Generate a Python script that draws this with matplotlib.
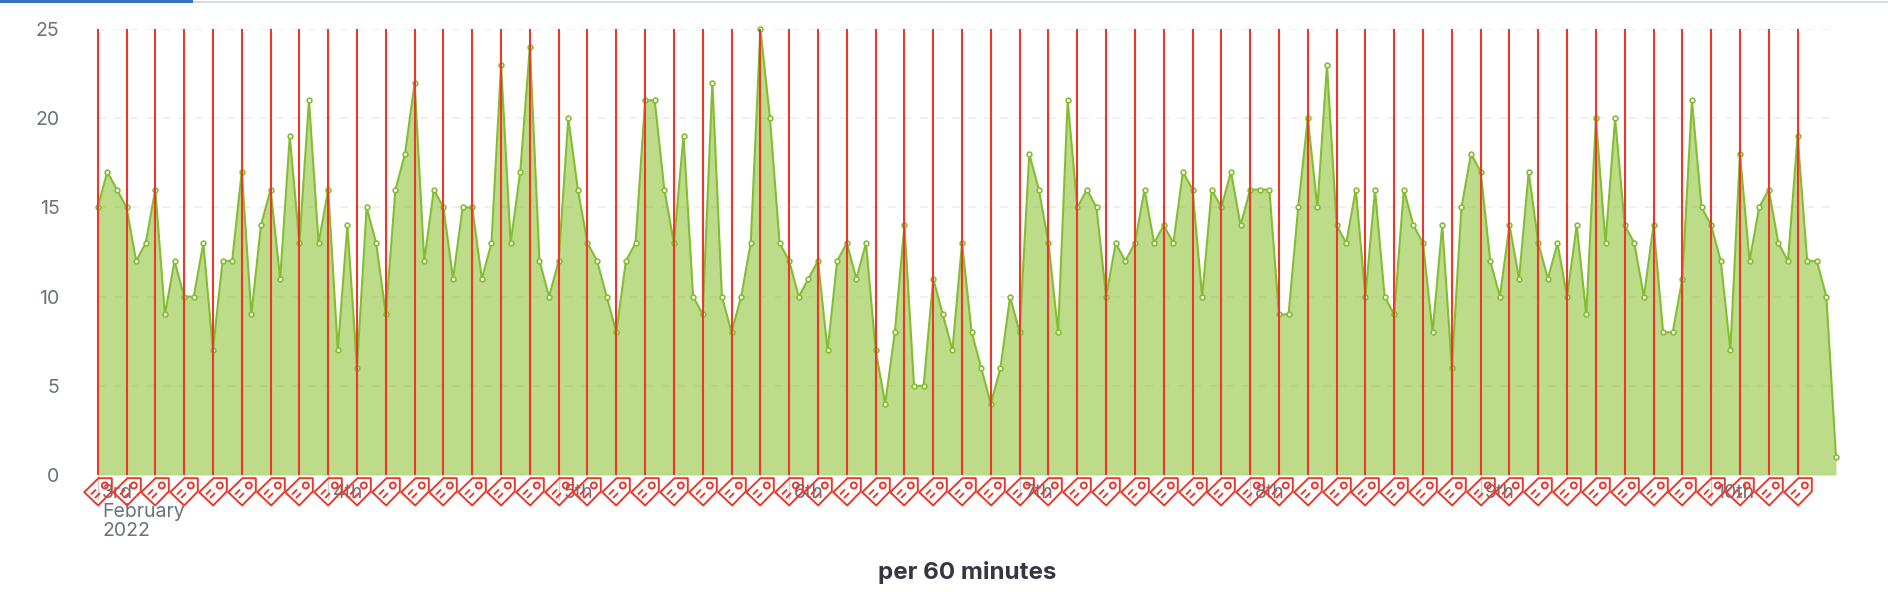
import matplotlib.pyplot as plt
import numpy as np
from matplotlib.patches import Rectangle
from matplotlib.path import Path

W, H = 1888, 596

counts = [
    15, 17, 16, 15, 12, 13, 16, 9, 12, 10, 10, 13, 7, 12, 12, 17, 9, 14, 16, 11,
    19, 13, 21, 13, 16, 7, 14, 6, 15, 13, 9, 16, 18, 22, 12, 16, 15, 11, 15, 15,
    11, 13, 23, 13, 17, 24, 12, 10, 12, 20, 16, 13, 12, 10, 8, 12, 13, 21, 21, 16,
    13, 19, 10, 9, 22, 10, 8, 10, 13, 25, 20, 13, 12, 10, 11, 12, 7, 12, 13, 11,
    13, 7, 4, 8, 14, 5, 5, 11, 9, 7, 13, 8, 6, 4, 6, 10, 8, 18, 16, 13,
    8, 21, 15, 16, 15, 10, 13, 12, 13, 16, 13, 14, 13, 17, 16, 10, 16, 15, 17, 14,
    16, 16, 16, 9, 9, 15, 20, 15, 23, 14, 13, 16, 10, 16, 10, 9, 16, 14, 13, 8,
    14, 6, 15, 18, 17, 12, 10, 14, 11, 17, 13, 11, 13, 10, 14, 9, 20, 13, 20, 14,
    13, 10, 14, 8, 8, 11, 21, 15, 14, 12, 7, 18, 12, 15, 16, 13, 12, 19, 12, 12,
    10, 1,
]
hours = np.arange(len(counts))
annotation_hours = hours[:180:3]
y_ticks = [0, 5, 10, 15, 20, 25]
day_hours = [0, 24, 48, 72, 96, 120, 144, 168]
day_labels = ['3rd\nFebruary\n2022', '4th', '5th', '6th', '7th', '8th', '9th', '10th']

GREEN = '#84bd34'
FILL = '#7dba15'
RED = '#e8392c'
GREY = '#6a717d'

# tag icon, in pixels from the foot of the annotation line (y up)
tag = Path(
    [(0, -2.7), (13.3, -2.7), (13.3, -16), (-0.3, -30), (-14.3, -16.7), (0, -2.7),
     (-7.5, -19), (-2.5, -14), (-3.5, -22.5), (1.5, -17.5)],
    [Path.MOVETO, Path.LINETO, Path.LINETO, Path.LINETO, Path.LINETO, Path.CLOSEPOLY,
     Path.MOVETO, Path.LINETO, Path.MOVETO, Path.LINETO],
)
hole = Path.circle((6.3, -10), 3)
tag_icon = Path.make_compound_path(tag, hole)
# markers get normalised by their largest coordinate
tag_size = 2 * np.abs(tag_icon.vertices).max() * 72 / 100

plt.rcParams['font.family'] = ['Inter', 'DejaVu Sans']
plt.rcParams['lines.scale_dashes'] = False

fig = plt.figure(figsize=(W / 100, H / 100), dpi=100)
left, right, top, bottom = 97.7, 1836, 29, 475
ax = fig.add_axes([left / W, 1 - bottom / H, (right - left) / W, (bottom - top) / H])

ax.fill_between(hours, counts, 0, color=FILL, alpha=0.5, linewidth=0, zorder=2)
ax.plot(hours, counts, color=GREEN, linewidth=1.5, marker='o', markersize=3.4,
        markerfacecolor='white', markeredgecolor=GREEN, markeredgewidth=1.2,
        clip_on=False, zorder=3)
ax.vlines(annotation_hours, 0, 25, color=RED, linewidth=1.5, clip_on=False, zorder=4)
ax.plot(annotation_hours, np.zeros(len(annotation_hours)), linestyle='none',
        marker=tag_icon, markersize=tag_size, markerfacecolor='none',
        markeredgecolor=RED, markeredgewidth=1.4, clip_on=False, zorder=5)

ax.set_xlim(0, 181)
ax.set_ylim(0, 25)
ax.set_yticks(y_ticks)
ax.set_xticks(day_hours)
ax.set_xticklabels([])
ax.tick_params(axis='y', length=0, pad=27.5, labelsize=14, labelcolor=GREY)
ax.tick_params(axis='x', length=18, width=1, color='#c9ccd1')
ax.grid(True, axis='y', color='#f0f0f0', linewidth=1.4, linestyle=(0, (5.8, 5.8)), zorder=1)
ax.set_axisbelow(True)
for side in ax.spines:
    ax.spines[side].set_visible(False)

for h, label in zip(day_hours, day_labels):
    ax.annotate(label, (h, 0), xytext=(4.5, -9), textcoords='offset pixels',
                ha='left', va='top', fontsize=14, color=GREY, linespacing=1.06,
                annotation_clip=False)

fig.text(967 / W, 1 - 573 / H, 'per 60 minutes', ha='center', va='center',
         fontsize=17.4, fontweight='bold', color='#343741')

# loading bar along the top edge
fig.add_artist(Rectangle((0, 1 - 3 / H), 1, 2 / H, transform=fig.transFigure,
                         facecolor='#cfdaeb', edgecolor='none'))
fig.add_artist(Rectangle((0, 1 - 3 / H), 193 / W, 3 / H, transform=fig.transFigure,
                         facecolor='#3572c0', edgecolor='none'))

fig.savefig('out.png', dpi=100)
